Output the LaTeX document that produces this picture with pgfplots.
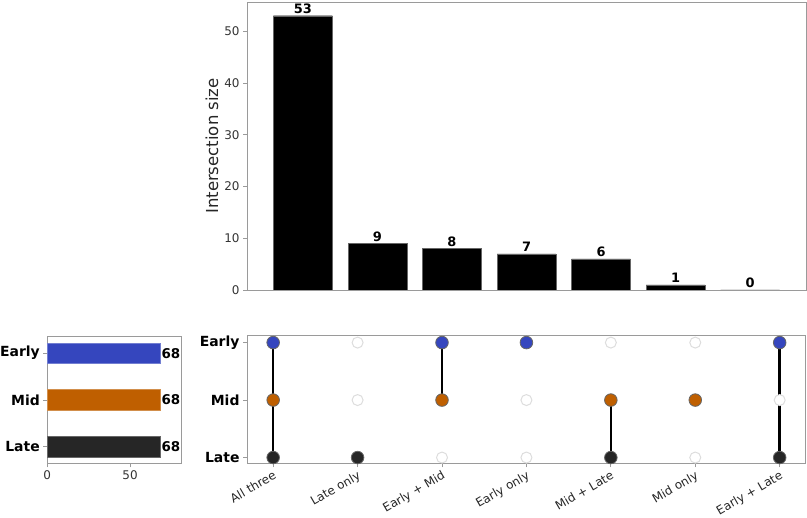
\documentclass[border=0pt]{standalone}
\usepackage{fontspec}
\setmainfont{DejaVu Sans}
\usepackage{pgfplots}
\pgfplotsset{compat=1.18}
\definecolor{cEarly}{HTML}{3546BE}
\definecolor{cMid}{HTML}{BF5F00}
\definecolor{cLate}{HTML}{262626}
\definecolor{spine}{HTML}{9A9A9A}
\definecolor{emptyc}{HTML}{DDDDDD}
\pgfplotsset{
  common/.style={
    scale only axis,
    anchor=south west,
    axis line style={spine, line width=0.9bp},
    tick style={spine, line width=0.9bp},
    tick align=outside,
    major tick length=4bp,
    /pgf/number format/assume math mode=true,
    xtick pos=bottom, ytick pos=left,
  }
}
\begin{document}
\begin{tikzpicture}[x=1bp,y=1bp]
\useasboundingbox (0,0) rectangle (807,518);

% ---------------- top: intersection sizes
\begin{axis}[common,
  at={(247bp,228bp)}, width=559bp, height=288bp,
  xmin=-0.75, xmax=6.75, ymin=0, ymax=55.65,
  xtick=\empty, ytick={0,10,...,50},
  yticklabel style={font=\fontsize{12}{14}\selectfont, text=black!80},
  ylabel={Intersection size},
  ylabel style={font=\fontsize{16.6}{20}\selectfont, text=black!85,
    at={(axis description cs:-0.0626,0.5)}, anchor=center},
  ybar, bar width=0.79, bar shift=0,
  nodes near coords,
  nodes near coords style={font=\bfseries\fontsize{13}{15}\selectfont, inner sep=2bp},
]
\addplot[fill=black, draw=black!60] coordinates {(0,53) (1,9) (2,8) (3,7) (4,6) (5,1) (6,0)};
\end{axis}

% ---------------- matrix
\begin{axis}[common,
  at={(247bp,54.7bp)}, width=558bp, height=127.6bp,
  xmin=-0.31, xmax=6.30, ymin=-0.1, ymax=2.12,
  clip=false,
  xtick={0,...,6},
  xticklabels={All three, Late only, Early + Mid, Early only, Mid + Late, Mid only, Early + Late},
  xticklabel style={rotate=30, anchor=north east, font=\fontsize{12}{14}\selectfont, text=black!85, inner sep=2bp},
  ytick={0,1,2}, yticklabels={Late,Mid,Early},
  yticklabel style={font=\bfseries\fontsize{14}{16}\selectfont},
]
% inactive (empty) dots
\addplot[only marks, mark=*, mark size=5.5bp, mark options={fill=white, draw=emptyc, line width=1bp}]
  coordinates {(1,2) (4,2) (5,2) (1,1) (3,1) (6,1) (2,0) (3,0) (5,0)};
% connecting lines
\addplot[black, line width=2.5bp] coordinates {(0,0) (0,2)};
\addplot[black, line width=2.5bp] coordinates {(2,1) (2,2)};
\addplot[black, line width=2.5bp] coordinates {(4,0) (4,1)};
\addplot[black, line width=2.5bp] coordinates {(6,0) (6,2)};
% active dots
\addplot[only marks, mark=*, mark size=6.3bp, mark options={fill=cEarly, draw=black!60, line width=0.8bp}]
  coordinates {(0,2) (2,2) (3,2) (6,2)};
\addplot[only marks, mark=*, mark size=6.3bp, mark options={fill=cMid, draw=black!60, line width=0.8bp}]
  coordinates {(0,1) (2,1) (4,1) (5,1)};
\addplot[only marks, mark=*, mark size=6.3bp, mark options={fill=cLate, draw=black!60, line width=0.8bp}]
  coordinates {(0,0) (1,0) (4,0) (6,0)};
\end{axis}

% ---------------- set sizes
\begin{axis}[common,
  at={(47.3bp,54.7bp)}, width=133.7bp, height=126.6bp,
  xmin=0, xmax=80.8, ymin=-0.35, ymax=2.35,
  xbar, bar width=0.44, bar shift=0,
  xtick={0,50},
  xticklabel style={font=\fontsize{12}{14}\selectfont, text=black!80},
  ytick={0,1,2}, yticklabels={Late,Mid,Early},
  yticklabel style={font=\bfseries\fontsize{14}{16}\selectfont},
  nodes near coords,
  nodes near coords style={font=\bfseries\fontsize{13.5}{15}\selectfont, inner sep=1.5bp, text=black},
  clip=false,
]
\addplot[fill=cEarly, draw=cEarly!70!white] coordinates {(68,2)};
\addplot[fill=cMid, draw=cMid!70!white] coordinates {(68,1)};
\addplot[fill=cLate, draw=cLate!70!white] coordinates {(68,0)};
\end{axis}
\end{tikzpicture}
\end{document}
